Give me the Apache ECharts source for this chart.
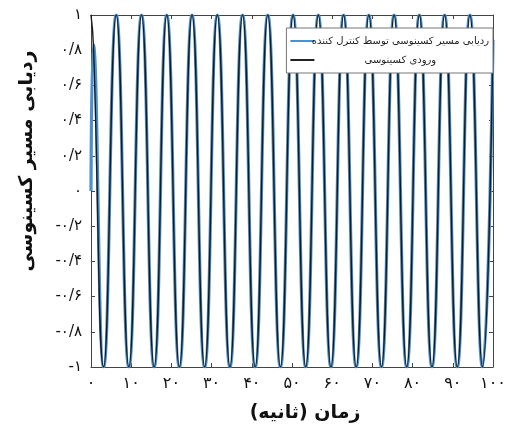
<!DOCTYPE html>
<html>
<head>
<meta charset="utf-8">
<script src="https://cdn.jsdelivr.net/npm/echarts@6/dist/echarts.min.js"></script>
<style>
  html, body { margin: 0; padding: 0; background: #fff; }
  #main { width: 514px; height: 428px; }
</style>
</head>
<body>
<div id="main"></div>
<script>
// turning points (time in s), shared by both curves
var times = [0, 0.6, 3.14, 6.28, 9.42, 12.57, 15.71, 18.85, 21.99, 25.13, 28.27,
  31.42, 34.56, 37.70, 40.84, 43.98, 47.12, 50.27, 53.41, 56.55, 59.69,
  62.83, 65.97, 69.12, 72.26, 75.40, 78.54, 81.68, 84.82, 87.96, 91.11,
  94.25, 97.39, 100];

// cosine input
var inputValues = [1, 0.83, -1, 1, -1, 1, -1, 1, -1, 1, -1,
  1, -1, 1, -1, 1, -1, 1, -1, 1, -1,
  1, -1, 1, -1, 1, -1, 1, -1, 1, -1,
  1, -1, 0.86];

// controller output: starts at zero, catches the input almost at once
var trackValues = [0, 0.83, -1, 1, -1, 1, -1, 1, -1, 1, -1,
  1, -1, 1, -1, 1, -1, 1, -1, 1, -1,
  1, -1, 1, -1, 1, -1, 1, -1, 1, -1,
  1, -1, 0.86];

var xTickLabels = ['۰', '۱۰', '۲۰', '۳۰', '۴۰', '۵۰', '۶۰', '۷۰', '۸۰', '۹۰', '۱۰۰'];
var yTickLabels = ['-۱', '-۰/۸', '-۰/۶', '-۰/۴', '-۰/۲', '۰', '۰/۲', '۰/۴', '۰/۶', '۰/۸', '۱'];

var trackName = 'ردیابی مسیر کسینوسی توسط کنترل کننده';
var inputName = 'ورودی کسینوسی';

function pairs(xs, ys) {
  var out = [];
  for (var i = 0; i < xs.length; i++) out.push([xs[i], ys[i]]);
  return out;
}

var dom = document.getElementById('main');
var myChart = echarts.init(dom, null, { renderer: 'canvas' });

var fontFamily = 'DejaVu Sans';
var frame = { show: true, onZero: false, lineStyle: { color: '#444', width: 1 } };
var ticks = { inside: true, length: 4, lineStyle: { color: '#444' } };

var option = {
  animation: false,
  grid: { left: 91, right: 21, top: 15, bottom: 60 },
  legend: {
    right: 21,
    top: 28,
    orient: 'vertical',
    z: 10,
    icon: 'rect',
    itemWidth: 24,
    itemHeight: 2,
    itemGap: 9,
    padding: [8, 4, 8, 4],
    backgroundColor: '#fff',
    borderColor: '#777',
    borderWidth: 1,
    borderRadius: 0,
    data: [trackName, inputName],
    formatter: function (name) { return '{t|' + name + '}'; },
    textStyle: {
      fontFamily: fontFamily,
      fontSize: 10,
      color: '#222',
      rich: { t: { width: 162, align: 'center', fontSize: 10, fontFamily: fontFamily } }
    }
  },
  xAxis: [{
    type: 'value',
    min: 0,
    max: 100,
    interval: 10,
    name: 'زمان (ثانیه)',
    nameLocation: 'middle',
    nameGap: 37,
    nameTextStyle: { fontFamily: fontFamily, fontSize: 19, fontWeight: 'bold', color: '#111', padding: [0, 0, 0, 26] },
    axisLine: frame,
    axisTick: ticks,
    splitLine: { show: false },
    axisLabel: {
      fontFamily: fontFamily, fontSize: 16, color: '#111', margin: 9,
      showMinLabel: true, showMaxLabel: true,
      formatter: function (v) { return xTickLabels[Math.round(v / 10)]; }
    }
  }, {
    type: 'value', position: 'top', min: 0, max: 100, interval: 10,
    axisLine: frame, axisTick: ticks,
    axisLabel: { show: false }, splitLine: { show: false }
  }],
  yAxis: [{
    type: 'value',
    min: -1,
    max: 1,
    interval: 0.2,
    name: 'ردیابی مسیر کسینوسی',
    nameLocation: 'middle',
    nameGap: 54,
    nameTextStyle: { fontFamily: fontFamily, fontSize: 19, fontWeight: 'bold', color: '#111', padding: [0, 0, 0, 60] },
    axisLine: frame,
    axisTick: ticks,
    splitLine: { show: false },
    axisLabel: {
      fontFamily: fontFamily, fontSize: 15, color: '#111', margin: 9,
      formatter: function (v) { return yTickLabels[Math.round((v + 1) / 0.2)]; }
    }
  }, {
    type: 'value', position: 'right', min: -1, max: 1, interval: 0.2,
    axisLine: frame, axisTick: ticks,
    axisLabel: { show: false }, splitLine: { show: false }
  }],
  series: [
    {
      name: trackName,
      type: 'line',
      smooth: 0.5,
      symbol: 'none',
      color: '#4a92cf',
      lineStyle: { color: '#4a92cf', width: 3.2 },
      data: pairs(times, trackValues)
    },
    {
      name: inputName,
      type: 'line',
      smooth: 0.5,
      symbol: 'none',
      color: '#222',
      lineStyle: { color: '#1a1a1a', width: 1.4 },
      data: pairs(times, inputValues)
    }
  ]
};

if (option && typeof option === 'object') {
  myChart.setOption(option);
}

window.addEventListener('resize', myChart.resize);
</script>
</body>
</html>
